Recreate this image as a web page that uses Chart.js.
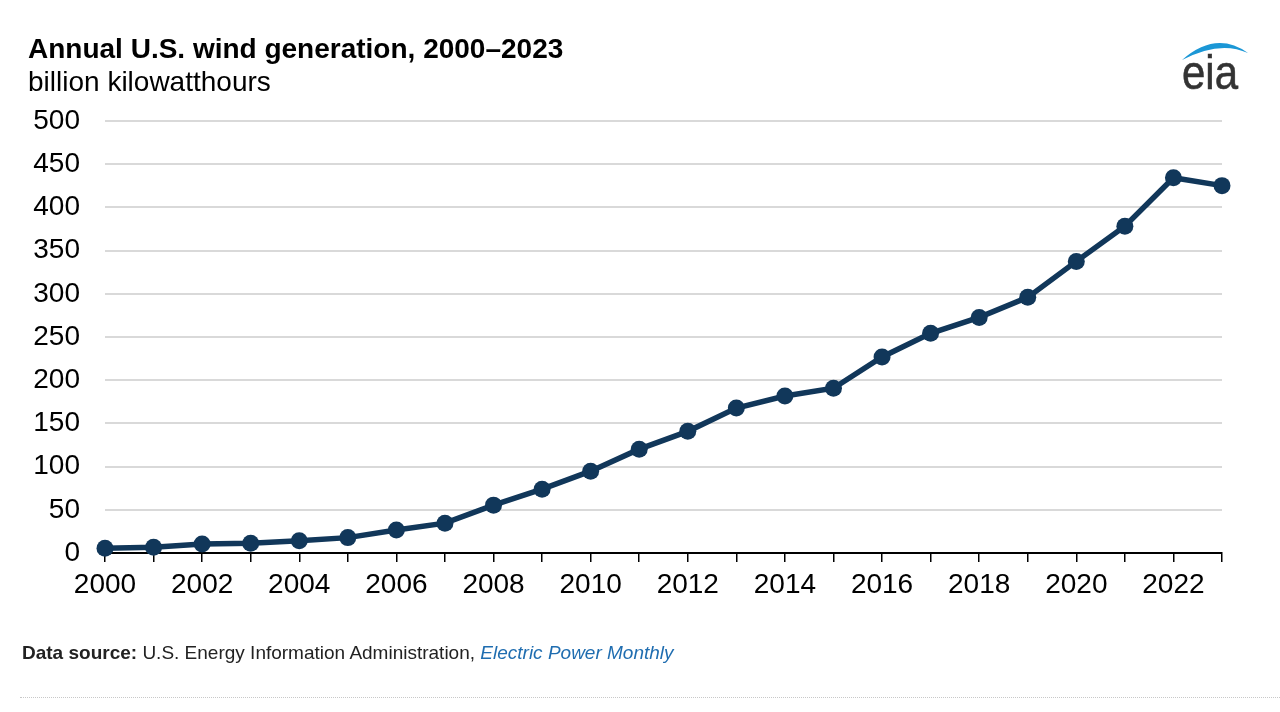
<!DOCTYPE html>
<html>
<head>
<meta charset="utf-8">
<script src="https://cdn.jsdelivr.net/npm/chart.js@4/dist/chart.umd.min.js"></script>
<style>
  body { margin: 0; background: #fff; font-family: "Liberation Sans", Arial, sans-serif; }
  #wrap { position: relative; width: 1280px; height: 712px; overflow: hidden; }
  canvas { position: absolute; left: 0; top: 0; }
  .title { position: absolute; left: 28px; top: 33px; font-size: 28px; font-weight: bold; color: #000; }
  .sub { position: absolute; left: 28px; top: 66px; font-size: 28px; color: #000; }
  .src { position: absolute; left: 22px; top: 642px; font-size: 19px; color: #222; }
  .src a { color: #1f6db0; font-style: italic; text-decoration: none; }
  .dots { position: absolute; left: 20px; right: 0; top: 697px; border-top: 1px dotted #c8c8c8; }
  .logo { position: absolute; left: 1176px; top: 36px; }
</style>
</head>
<body>
<div id="wrap">
  <canvas id="chart" width="1280" height="712"></canvas>
  <div class="title">Annual U.S. wind generation, 2000–2023</div>
  <div class="sub">billion kilowatthours</div>
  <div class="src"><b>Data source:</b> U.S. Energy Information Administration, <a>Electric Power Monthly</a></div>
  <div class="dots"></div>
  <svg class="logo" width="80" height="60" viewBox="0 0 80 60">
    <path d="M6 24 Q40 -6 72 17 Q44 4 6 24 Z" fill="#1b97d6"/>
    <text x="6" y="53" font-family="Liberation Sans, Arial" font-size="42" fill="#333" stroke="#333" stroke-width="0.5"
          transform="translate(0,-8) scale(1,1.15)">eia</text>
  </svg>
</div>
<script>
// Jahre und Werte (Milliarden kWh)
const years = ['2000','2001','2002','2003','2004','2005','2006','2007','2008','2009','2010','2011',
               '2012','2013','2014','2015','2016','2017','2018','2019','2020','2021','2022','2023']
const windGen = [5.6, 6.7, 10.4, 11.2, 14.1, 17.8, 26.6, 34.5, 55.4, 73.9, 94.7, 120.2,
                 140.8, 167.8, 181.7, 190.7, 226.9, 254.3, 272.7, 295.9, 337.5, 378.2, 434.3, 425.2]
const yTicks = [0, 50, 100, 150, 200, 250, 300, 350, 400, 450, 500]

const navy = '#11375a'

new Chart(document.getElementById('chart').getContext('2d'), {
  type: 'line',
  data: {
    labels: years,
    datasets: [{
      data: windGen,
      borderColor: navy,
      backgroundColor: navy,
      borderWidth: 5.5,
      pointRadius: 8.5,
      pointBackgroundColor: navy,
      pointBorderWidth: 0,
      tension: 0,
      clip: false
    }]
  },
  options: {
    responsive: false,
    animation: false,
    layout: { padding: { top: 121, right: 58, bottom: 0, left: 0 } },
    plugins: { legend: { display: false }, tooltip: { enabled: false } },
    scales: {
      x: {
        offset: false,
        grid: { drawOnChartArea: false, drawTicks: true, tickLength: 9, color: '#000', lineWidth: 1.5 },
        border: { color: '#000', width: 2 },
        ticks: {
          autoSkip: false, maxRotation: 0, padding: 6, color: '#000',
          font: { family: 'Liberation Sans', size: 28 },
          callback: (v, i) => (i % 2 === 0 ? years[i] : '')
        },
        afterFit: (s) => { s.height = 159 }
      },
      y: {
        min: 0, max: 500,
        afterBuildTicks: (s) => { s.ticks = yTicks.map(v => ({ value: v })) },
        grid: { color: '#d9d9d9', lineWidth: 2, drawTicks: false },
        border: { display: false },
        ticks: { padding: 25, color: '#000', font: { family: 'Liberation Sans', size: 28 } },
        afterFit: (s) => { s.width = 105 }
      }
    }
  }
})
</script>
</body>
</html>
